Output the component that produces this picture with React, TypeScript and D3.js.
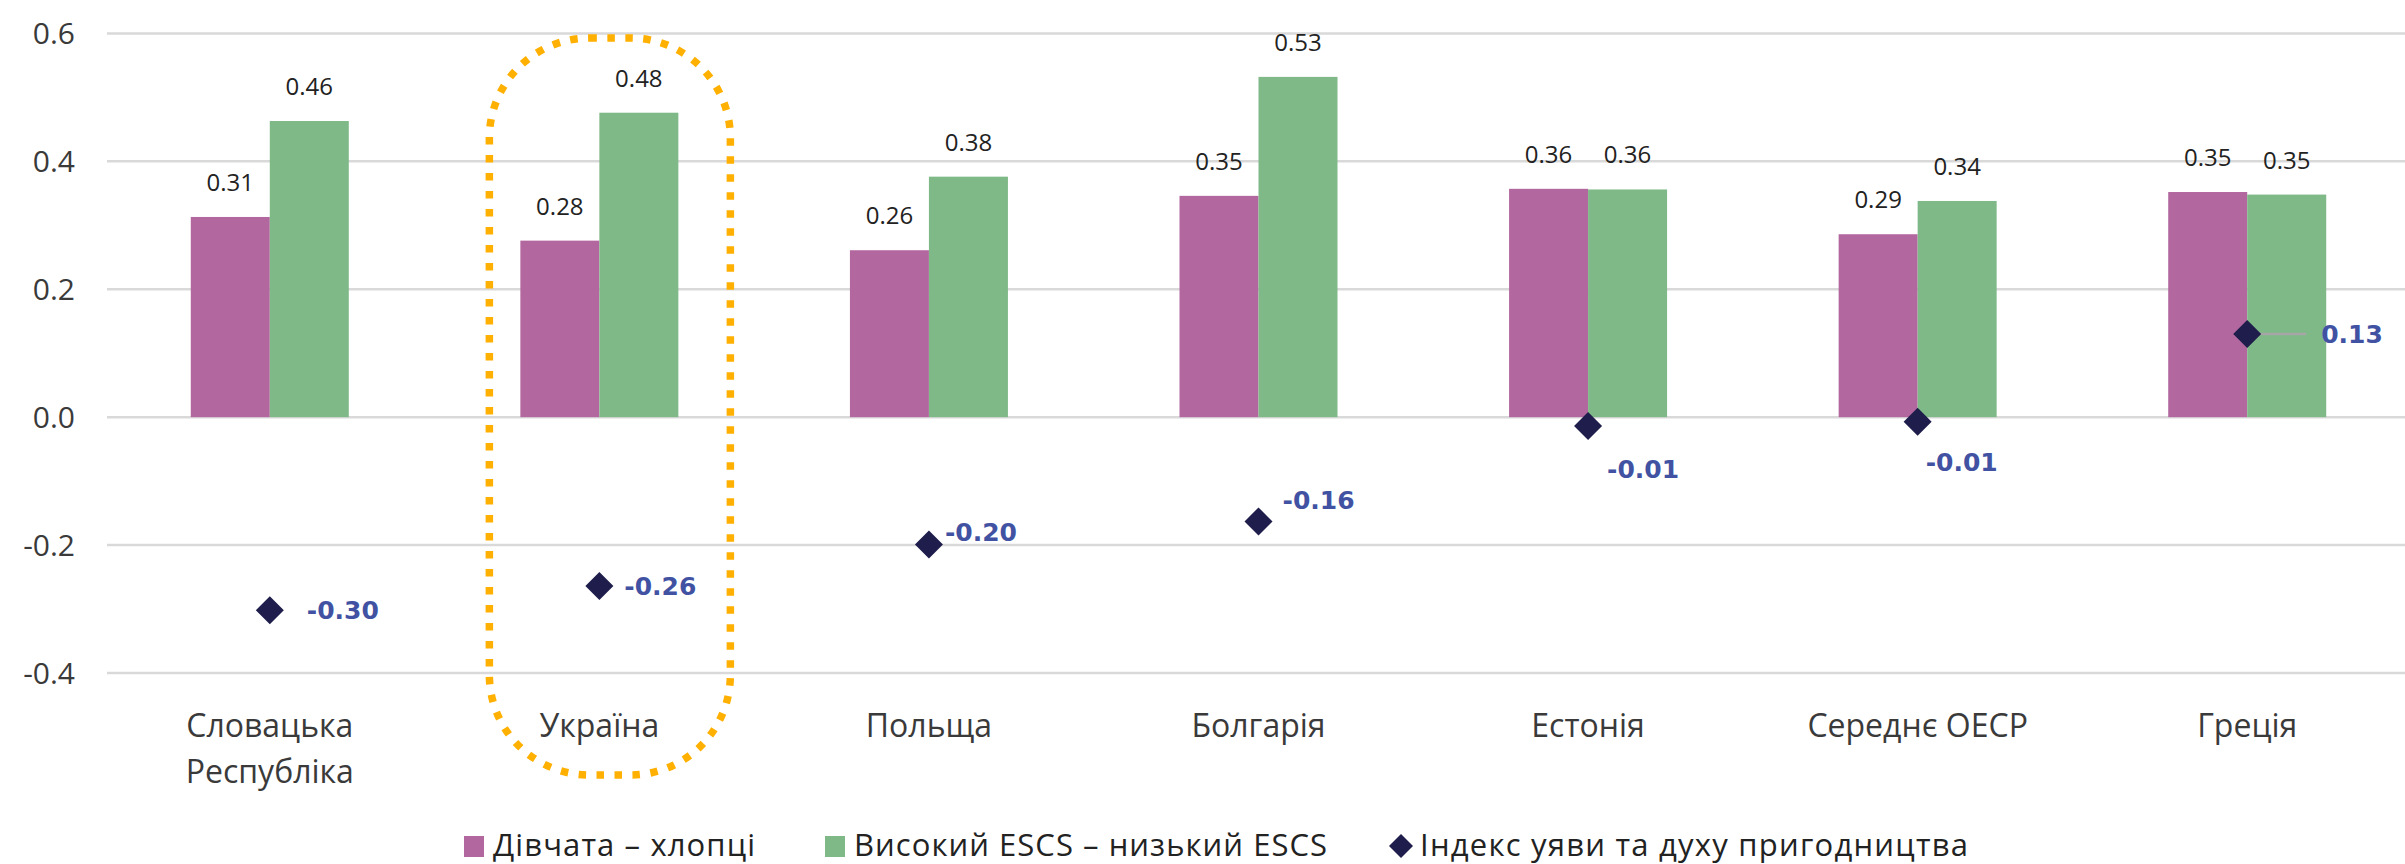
import React from "react";
import * as d3 from "d3";

const categories = ["Словацька\nРеспубліка", "Україна", "Польща", "Болгарія", "Естонія", "Середнє ОЕСР", "Греція"];
const girlsBoys = [0.313, 0.276, 0.261, 0.346, 0.357, 0.286, 0.352];
const highLowEscs = [0.463, 0.476, 0.376, 0.532, 0.356, 0.338, 0.348];
const imaginationIndex = [-0.302, -0.264, -0.199, -0.163, -0.014, -0.007, 0.13];
const yTicks = [-0.4, -0.2, 0.0, 0.2, 0.4, 0.6];
const seriesNames = ["Дівчата – хлопці", "Високий ESCS – низький ESCS", "Індекс уяви та духу пригодництва"];

// label placement offsets for the index labels (layout only)
const indexLabelOffsets = [
  { dx: 37, dy: 0, leader: 0 },
  { dx: 25, dy: 0, leader: 0 },
  { dx: 16, dy: -12, leader: 0 },
  { dx: 24, dy: -21, leader: 0 },
  { dx: 19, dy: 43, leader: 0 },
  { dx: 8, dy: 40, leader: 0 },
  { dx: 74, dy: 0, leader: 59 },
];

const W = 2405;
const H = 864;
const PURPLE = "#B3679F";
const GREEN = "#7EB987";
const NAVY = "#1E1D4B";
const LABEL_BLUE = "#4152A3";
const TEXT = "#3A3A3A";
const FONT = "'Open Sans', sans-serif";

export default function App() {
  const x = d3.scaleBand<number>().domain(d3.range(categories.length)).range([105, 2412]).padding(0);
  const inner = d3.scaleBand<number>().domain([0, 1]).range([-79, 79]).padding(0);
  const y = d3.scaleLinear().domain([-0.4, 0.6]).range([673.0, 33.4]);
  const cx = (i: number) => (x(i) as number) + x.bandwidth() / 2;
  const fmt = (v: number) => v.toFixed(2);
  const series = [girlsBoys, highLowEscs];
  const colors = [PURPLE, GREEN];

  const diamond = (r: number) => `M0,${-r}L${r},0L0,${r}L${-r},0Z`;

  const ukr = 1;
  const boxLeft = cx(ukr) - 110;
  const boxRight = cx(ukr) + 131;

  return (
    <svg width={W} height={H} style={{ position: "absolute", left: 0, top: 0, background: "#fff" }} fontFamily={FONT}>
      <rect x={0} y={0} width={W} height={H} fill="#fff" />
      {/* gridlines */}
      {yTicks.map((t) => (
        <line key={"g" + t} x1={107} x2={W} y1={y(t)} y2={y(t)} stroke="#D9D9D9" strokeWidth={2.5} />
      ))}
      {/* y tick labels */}
      {yTicks.map((t) => (
        <text key={"t" + t} x={75} y={y(t)} dy="0.35em" textAnchor="end" fontSize={30} fill={TEXT}>
          {t.toFixed(1)}
        </text>
      ))}
      {/* bars */}
      {series.map((vals, s) =>
        vals.map((v, i) => {
          const bx = cx(i) + (inner(s) as number);
          const top = y(Math.max(0, v));
          const h = Math.abs(y(v) - y(0));
          return (
            <g key={`b${s}-${i}`}>
              <rect x={bx} y={top} width={inner.bandwidth()} height={h} fill={colors[s]} />
              <text x={bx + inner.bandwidth() / 2} y={top - 26} textAnchor="middle" fontSize={24} fill="#222">
                {fmt(v)}
              </text>
            </g>
          );
        })
      )}
      {/* index markers */}
      {imaginationIndex.map((v, i) => {
        const px = cx(i);
        const py = y(v);
        const o = indexLabelOffsets[i];
        return (
          <g key={"d" + i}>
            {o.leader > 0 && <line x1={px} x2={px + o.leader} y1={py} y2={py} stroke="#A6A6A6" strokeWidth={2.5} />}
            <path d={diamond(14)} transform={`translate(${px},${py})`} fill={NAVY} />
            <text
              x={px + o.dx}
              y={py + o.dy}
              dy="0.36em"
              fontFamily="'DejaVu Sans', sans-serif"
              fontWeight="bold"
              fontSize={25}
              fill={LABEL_BLUE}
            >
              {fmt(v)}
            </text>
          </g>
        );
      })}
      {/* category labels */}
      {categories.map((c, i) => (
        <text key={"c" + i} x={cx(i)} y={737} textAnchor="middle" fontSize={32} fill={TEXT}>
          {c.split("\n").map((line, k) => (
            <tspan key={k} x={cx(i)} dy={k === 0 ? 0 : 46}>
              {line}
            </tspan>
          ))}
        </text>
      ))}
      {/* highlight box around Ukraine */}
      <rect
        x={boxLeft}
        y={38}
        width={boxRight - boxLeft}
        height={737}
        rx={100}
        ry={100}
        fill="none"
        stroke="#FFB000"
        strokeWidth={7.5}
        strokeDasharray="7.5 10.5"
      />
      {/* legend */}
      <g fontSize={31} fill="#222">
        <rect x={464} y={836} width={20} height={21} fill={PURPLE} />
        <text x={493} y={856} textLength={262} lengthAdjust="spacing">{seriesNames[0]}</text>
        <rect x={825} y={836} width={20} height={21} fill={GREEN} />
        <text x={854} y={856} textLength={473} lengthAdjust="spacing">{seriesNames[1]}</text>
        <path d={diamond(12)} transform="translate(1401,846)" fill={NAVY} />
        <text x={1420} y={856} textLength={548} lengthAdjust="spacing">{seriesNames[2]}</text>
      </g>
    </svg>
  );
}
